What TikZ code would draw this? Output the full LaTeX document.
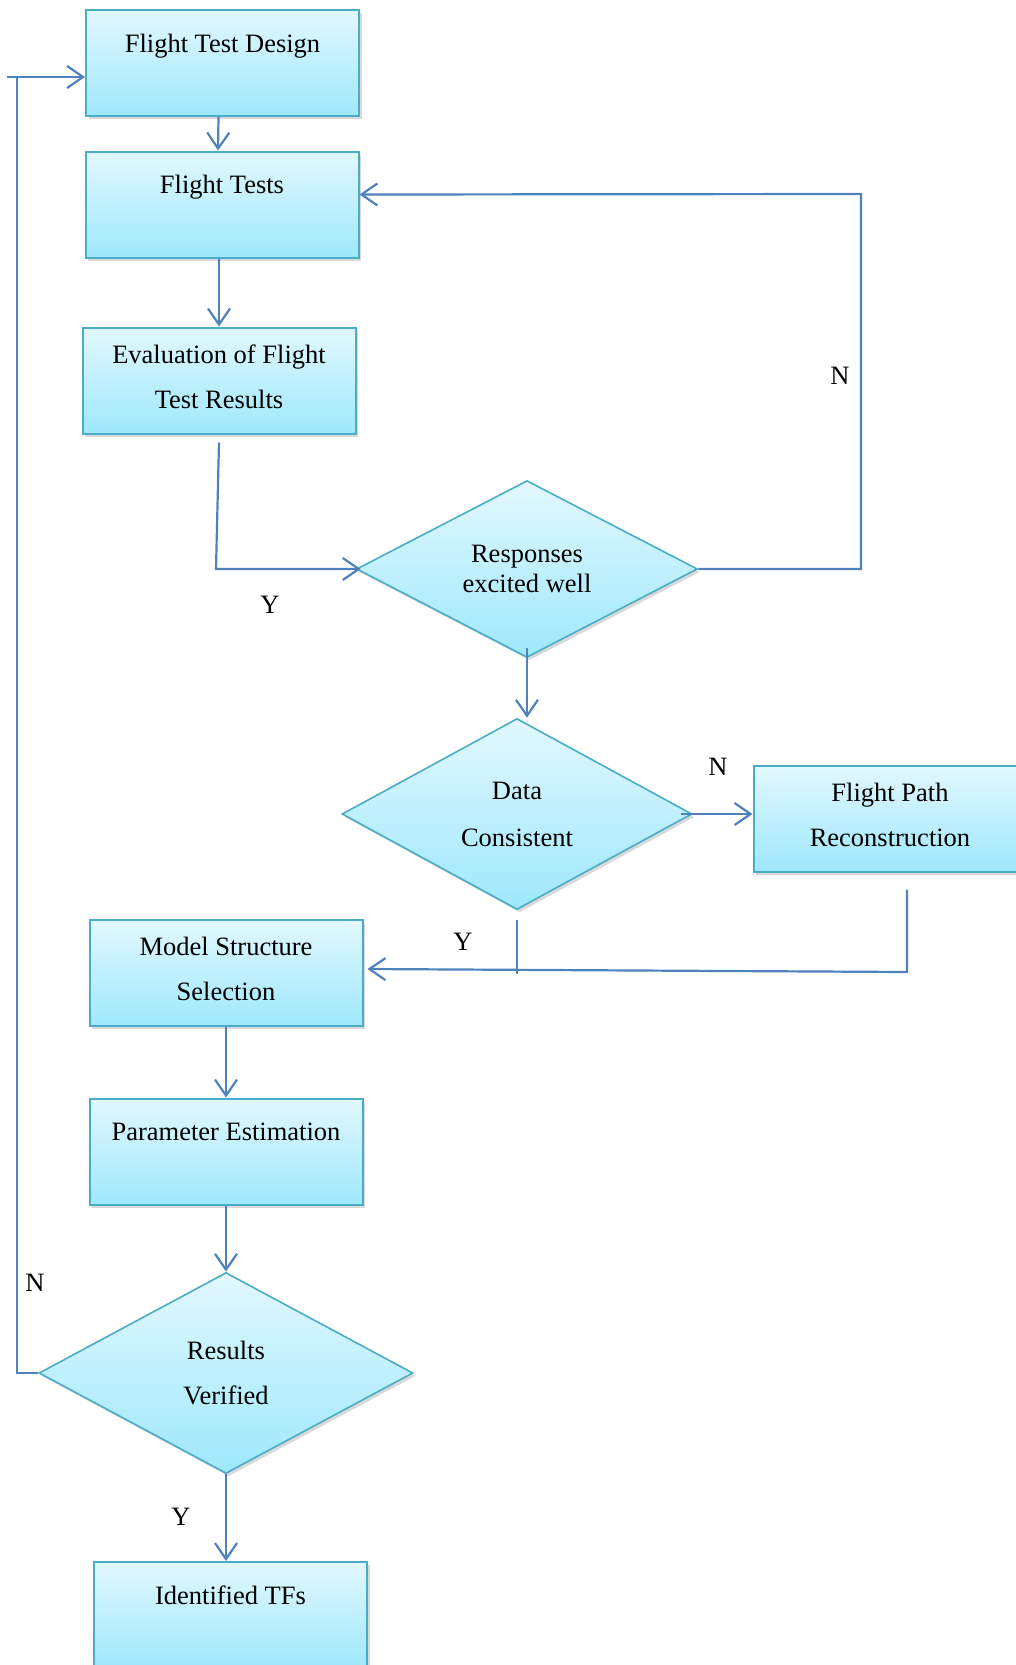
\documentclass[tikz,border=0pt]{standalone}
\usepackage{fontspec}
\setmainfont{Liberation Serif}
\usetikzlibrary{arrows.meta,shapes.geometric,shadows}
\definecolor{conncol}{RGB}{79,129,189}
\definecolor{boxline}{RGB}{75,172,198}
\definecolor{filltop}{RGB}{226,248,254}
\definecolor{fillbot}{RGB}{158,232,252}
\begin{document}
\begin{tikzpicture}[x=1pt,y=-1pt,
  every node/.style={font=\fontsize{26.5}{30.5}\selectfont, text=black},
  shade/.style={top color=filltop, bottom color=fillbot,
    drop shadow={shadow xshift=2.5pt, shadow yshift=-3pt, opacity=0.25, fill=black!60}},
  box/.style={shade, draw=boxline, line width=2pt, rectangle,
    minimum width=273pt, minimum height=106pt, inner sep=0pt, align=center},
  single/.style={text depth=40pt},
  double/.style={text depth=8pt},
  dec/.style={shade, draw=boxline, line width=1.6pt, diamond, inner sep=0pt, align=center},
  conn/.style={draw=conncol, line width=2.2pt},
  arr/.style={conn, -{Straight Barb[length=16pt,width=22pt]}},
  lab/.style={inner sep=0pt}]
\useasboundingbox (0,0) rectangle (1016,1665);

% boxes
\node[box,single] (design) at (222.5,63) {Flight Test Design};
\node[box,single] (tests) at (222,204.5) {Flight Tests};
\node[box,double] (eval) at (219,380.5) {Evaluation of Flight\\[14.5pt]Test Results};
\node[dec, minimum width=341pt, minimum height=172pt] (resp) at (527,569) {Responses\\excited well};
\node[dec, minimum width=350pt, minimum height=191pt] (data) at (517,814) {Data\\[16.5pt]Consistent};
\node[box,double] (fpr) at (890,818.5) {Flight Path\\[14.5pt]Reconstruction};
\node[box,double] (mss) at (226,973) {Model Structure\\[14.5pt]Selection};
\node[box,single] (pe) at (226,1151.5) {Parameter Estimation};
\node[dec, minimum width=374pt, minimum height=201pt] (ver) at (226,1373) {Results\\[14.5pt]Verified};
\node[box,single] (itf) at (230.5,1615) {Identified TFs};

% helper coordinates
\coordinate (nr) at (861,194);
\coordinate (fc) at (907,972);
\coordinate (lc) at (17,77);
\coordinate (ls) at (7,77);

% connectors
\draw[arr] ([xshift=-4pt]design.south) -- ([xshift=-4pt]tests.north);
\draw[arr] (eval.north |- tests.south) -- (eval.north);
\draw[arr] ([yshift=-8pt]eval.south) -- ([xshift=-3pt]eval.south |- resp.west) -- ([xshift=5pt]resp.west);
\draw[arr] (resp.east) -| (nr) -- ([yshift=10pt]tests.east);
\draw[arr] ([yshift=10pt]resp.south) -- (resp.south |- data.north);
\draw[arr] ([xshift=-12pt]data.east) -- (data.east -| fpr.west);
\draw[arr] ([xshift=17pt,yshift=-17pt]fpr.south) -- (fc) -- ([xshift=4pt,yshift=4pt]mss.east);
\draw[conn] ([yshift=-10pt]data.south) -- ([yshift=-2pt]data.south |- fc);
\draw[arr] (mss.south) -- (pe.north);
\draw[arr] (pe.south) -- (ver.north);
\draw[arr] (ver.south) -- (ver.south |- itf.north);
\draw[conn] (ver.west) -| (lc);
\draw[arr] (ls) -- ([yshift=-14pt]design.west);

% labels
\node[lab] (y1) at (270,605) {Y};
\node[lab] (n1) at (840,376) {N};
\node[lab] (n2) at (718,767) {N};
\node[lab] (y2) at (463,942) {Y};
\node[lab] (n3) at (35,1283) {N};
\node[lab] (y3) at (181,1517) {Y};
\end{tikzpicture}
\end{document}
